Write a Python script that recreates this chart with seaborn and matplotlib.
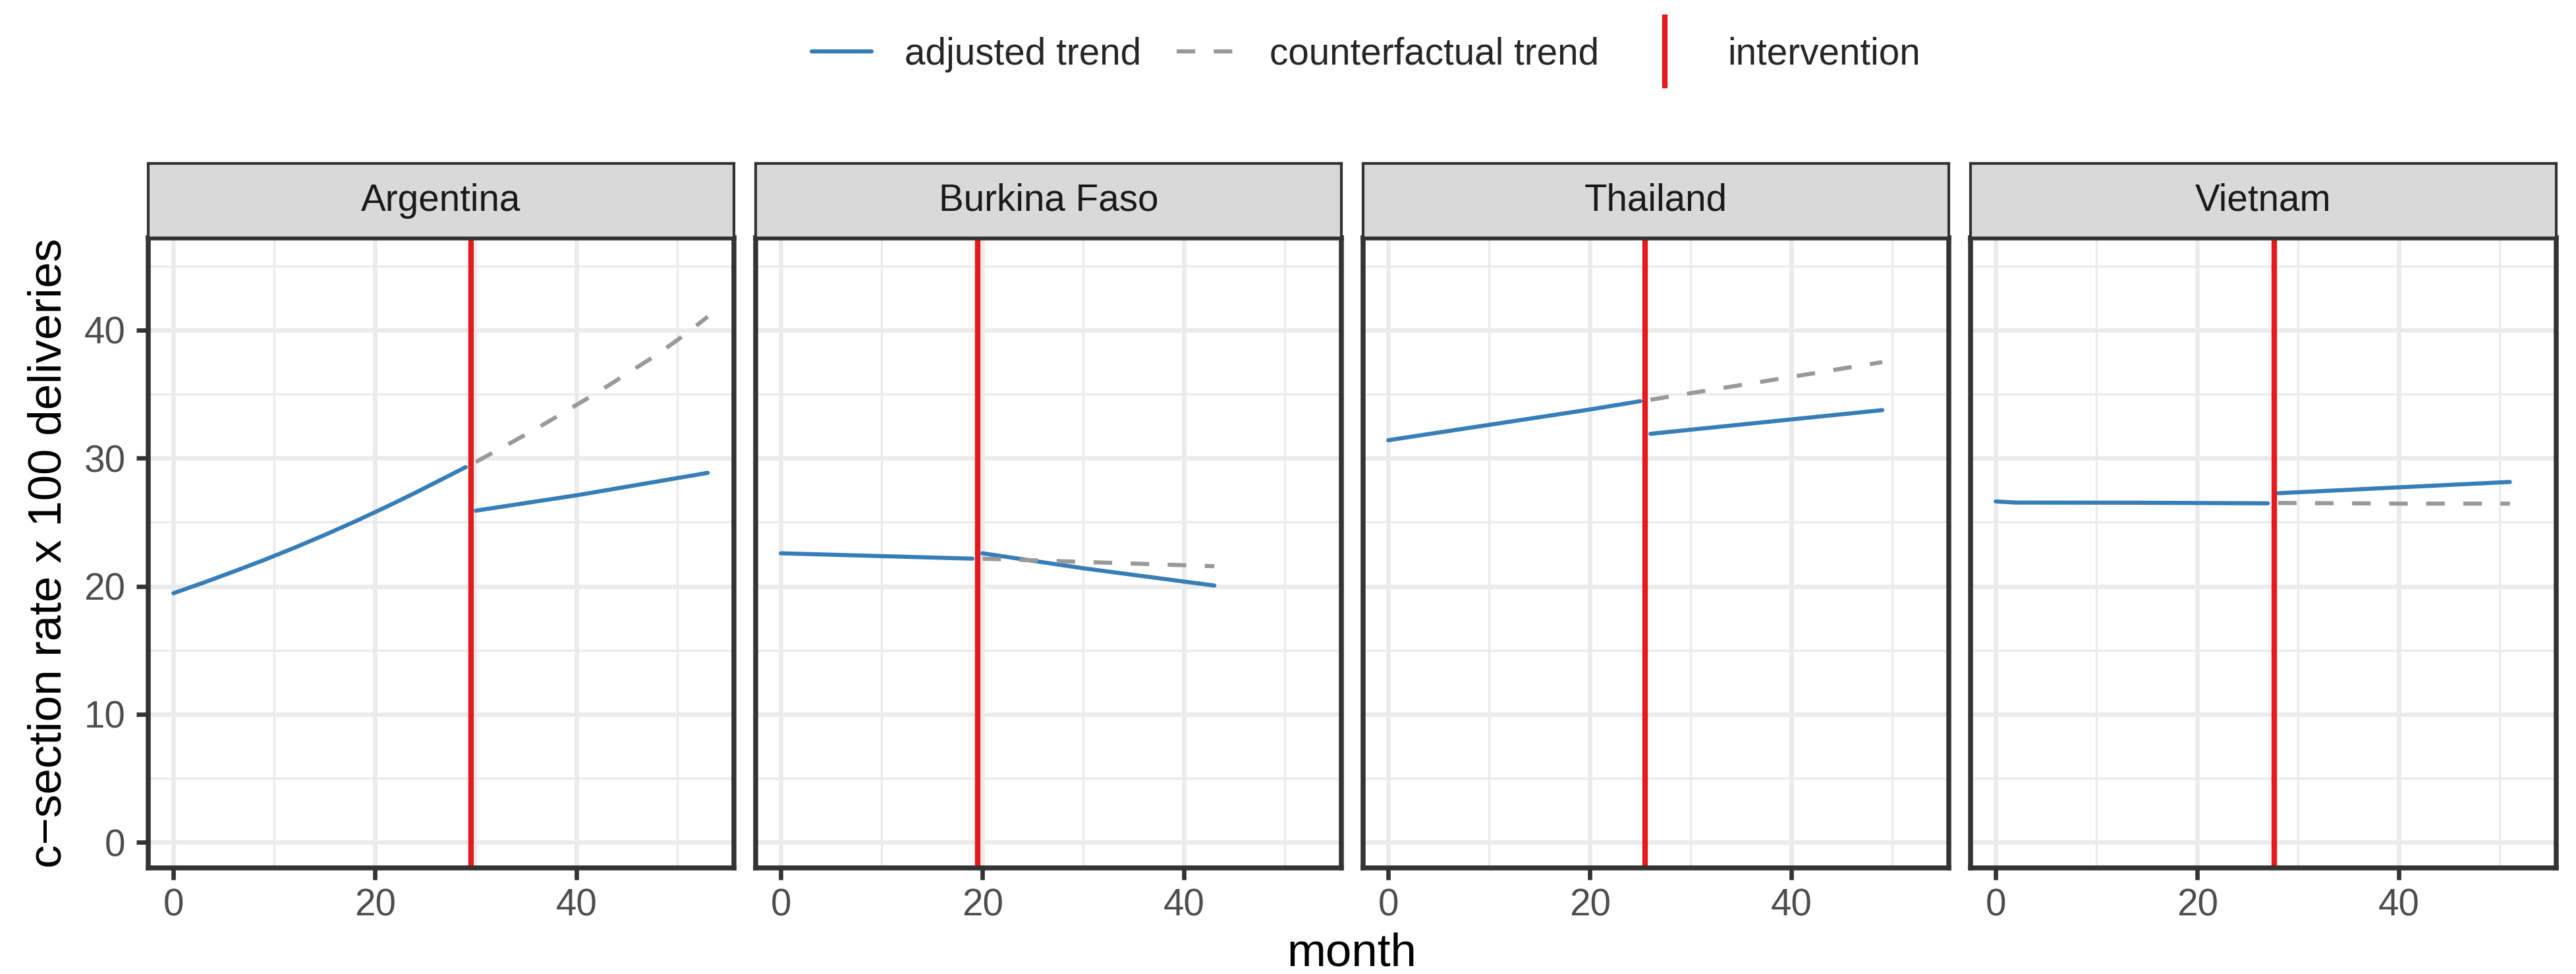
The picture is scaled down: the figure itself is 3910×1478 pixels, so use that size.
import matplotlib
matplotlib.use("Agg")
import matplotlib.pyplot as plt
from matplotlib.lines import Line2D
import seaborn as sns
import pandas as pd

# values
countries = ["Argentina", "Burkina Faso", "Thailand", "Vietnam"]
intervention = [29.5, 19.5, 25.5, 27.6]

pre_month = {
    "Argentina": [0, 3, 6, 9, 12, 15, 18, 21, 24, 27, 29],
    "Burkina Faso": [0, 10, 19],
    "Thailand": [0, 10, 20, 25],
    "Vietnam": [0, 2, 14, 27],
}
pre_rate = {
    "Argentina": [19.45, 20.28, 21.15, 22.05, 23.0, 24.0, 25.05, 26.15, 27.3, 28.5, 29.3],
    "Burkina Faso": [22.57, 22.35, 22.15],
    "Thailand": [31.4, 32.6, 33.8, 34.45],
    "Vietnam": [26.62, 26.53, 26.52, 26.47],
}
post_month = {
    "Argentina": [30, 40, 53],
    "Burkina Faso": [20, 30, 43],
    "Thailand": [26, 49],
    "Vietnam": [28, 51],
}
post_rate = {
    "Argentina": [25.9, 27.1, 28.85],
    "Burkina Faso": [22.57, 21.4, 20.05],
    "Thailand": [31.9, 33.75],
    "Vietnam": [27.26, 28.14],
}
cf_month = {
    "Argentina": [30, 33, 36, 39, 42, 45, 48, 51, 53],
    "Burkina Faso": [20, 43],
    "Thailand": [26, 49],
    "Vietnam": [28, 40, 51],
}
cf_rate = {
    "Argentina": [29.7, 31.0, 32.3, 33.7, 35.1, 36.6, 38.1, 39.8, 41.05],
    "Burkina Faso": [22.15, 21.56],
    "Thailand": [34.56, 37.5],
    "Vietnam": [26.5, 26.45, 26.45],
}

rows = []
for c in countries:
    for seg, series, mm, rr in [("pre", "adjusted trend", pre_month, pre_rate),
                                 ("post", "adjusted trend", post_month, post_rate),
                                 ("cf", "counterfactual trend", cf_month, cf_rate)]:
        for m, r in zip(mm[c], rr[c]):
            rows.append({"country": c, "month": m, "rate": r, "series": series, "segment": seg})
df = pd.DataFrame(rows)

blue = "#377EB8"
grey = "#999999"
red = "#E41A1C"
dash = (4.5, 4.5)
lw = 1.5

sns.set_theme(style="white")
plt.rcParams["font.family"] = ["Liberation Sans", "DejaVu Sans"]

W, H = 3910, 1478
fig = plt.figure(figsize=(W / 300, H / 300), dpi=300)

left0, pw, gap = 225, 889, 33
ptop, pbot, stop = 361, 1317, 248

for i, c in enumerate(countries):
    x0 = left0 + i * (pw + gap)
    ax = fig.add_axes([x0 / W, 1 - pbot / H, pw / W, (pbot - ptop) / H])
    sub = df[df["country"] == c]
    sns.lineplot(data=sub, x="month", y="rate", hue="series", style="series",
                 units="segment", estimator=None,
                 palette={"adjusted trend": blue, "counterfactual trend": grey},
                 dashes={"adjusted trend": "", "counterfactual trend": dash},
                 linewidth=lw, legend=False, ax=ax, zorder=3)
    ax.axvline(intervention[i], color=red, lw=2.0, zorder=4)

    ax.set_xlim(-2.5, 55.6)
    ax.set_ylim(-2.0, 47.2)
    ax.set_xticks([0, 20, 40])
    ax.set_xticks([10, 30, 50], minor=True)
    ax.set_yticks([0, 10, 20, 30, 40])
    ax.set_yticks([5, 15, 25, 35, 45], minor=True)
    ax.grid(which="major", color="#EBEBEB", lw=1.6, zorder=0)
    ax.grid(which="minor", color="#EBEBEB", lw=0.8, zorder=0)
    ax.set_axisbelow(True)
    ax.set_facecolor("white")
    for s in ax.spines.values():
        s.set_color("#333333")
        s.set_linewidth(1.8)
        s.set_visible(True)
        s.set_zorder(5)
    ax.tick_params(which="major", axis="x", length=4.25, width=1.6, color="#333333",
                   labelsize=13.6, labelcolor="#4D4D4D", pad=3, bottom=True)
    ax.tick_params(which="minor", length=0)
    if i == 0:
        ax.tick_params(which="major", axis="y", length=4.25, width=1.6, color="#333333",
                       labelsize=13.6, labelcolor="#4D4D4D", pad=4, left=True)
    else:
        ax.tick_params(axis="y", left=False, labelleft=False)
    ax.set_xlabel("")
    ax.set_ylabel("")

    # facet strip
    sax = fig.add_axes([x0 / W, 1 - ptop / H, pw / W, (ptop - stop) / H])
    sax.set_facecolor("#D9D9D9")
    sax.set_xticks([])
    sax.set_yticks([])
    for s in sax.spines.values():
        s.set_color("#333333")
        s.set_linewidth(1.0)
    sax.text(0.5, 0.5, c, ha="center", va="center", fontsize=13.6, color="#1A1A1A",
             transform=sax.transAxes)

fig.text(75 / W, 1 - 839 / H, "c\u2212section rate x 100 deliveries", rotation=90,
         ha="center", va="center", fontsize=17, color="black")
fig.text(2052 / W, 1 - 1448 / H, "month", ha="center", va="center", fontsize=17, color="black")

handles = [
    Line2D([0], [0], color=blue, lw=lw),
    Line2D([0], [0], color=grey, lw=lw, dashes=dash),
    Line2D([0], [0], color=red, lw=0, marker="|", markersize=27, markeredgewidth=2.0),
]
labels = ["adjusted trend", "counterfactual trend", "intervention"]
fig.legend(handles, labels, loc="center", bbox_to_anchor=(2073 / W, 1 - 83 / H), ncol=3,
           frameon=False, fontsize=13.6, handlelength=1.62, handletextpad=0.87,
           columnspacing=0.95)

fig.savefig("out.png", dpi=300)
